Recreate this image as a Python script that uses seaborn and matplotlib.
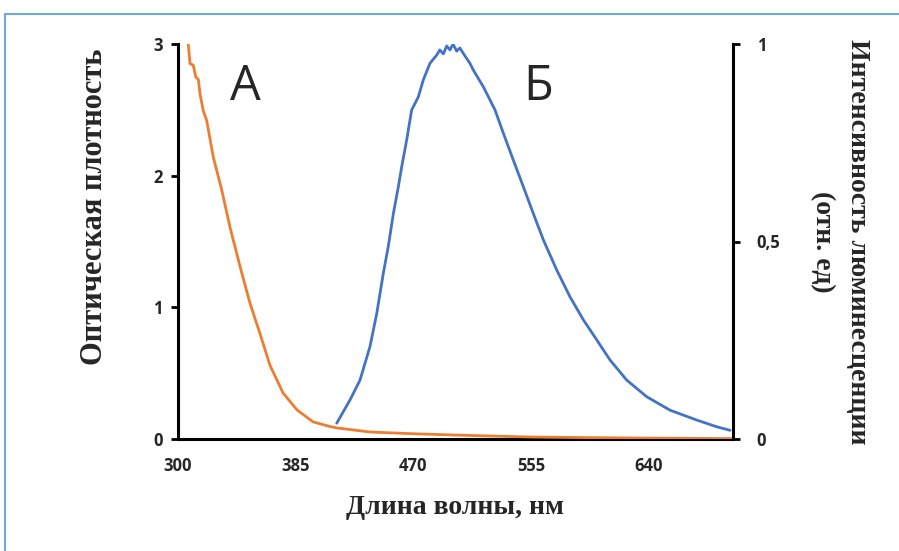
import pandas as pd
import matplotlib
matplotlib.use("Agg")
import matplotlib.pyplot as plt
import seaborn as sns
from matplotlib.patches import Rectangle

# absorption spectrum (left axis, optical density)
abs_nm = [307.4, 308.7, 311.0, 312.8, 314.7, 315.9, 318.3, 320.7, 321.9, 325.5,
          331.6, 337.5, 344.8, 352.0, 359.2, 366.4, 375.8, 386.0, 397.5, 409.7,
          414.8, 438.6, 469.7, 500.0, 554.0, 600.0, 640.0, 700.0]
abs_od = [3.00, 2.85, 2.84, 2.75, 2.73, 2.62, 2.49, 2.42, 2.35, 2.14,
          1.89, 1.61, 1.31, 1.03, 0.80, 0.56, 0.35, 0.22, 0.13, 0.095,
          0.084, 0.053, 0.040, 0.030, 0.015, 0.010, 0.007, 0.003]

# luminescence spectrum (right axis, rel. units)
lum_nm = [414.6, 424.2, 431.4, 438.6, 443.5, 448.2, 451.8, 455.5, 459.1, 461.5,
          465.1, 468.7, 473.5, 477.1, 481.9, 486.8, 489.0, 491.6, 494.0, 496.4,
          498.5, 501.2, 503.5, 506.0, 510.8, 513.2, 520.4, 528.9, 534.9, 542.1,
          549.3, 556.5, 563.8, 573.4, 583.0, 592.6, 602.3, 611.9, 624.0, 638.4,
          655.2, 674.5, 688.9, 698.6]
lum_int = [0.040, 0.099, 0.149, 0.234, 0.318, 0.419, 0.487, 0.571, 0.639, 0.689,
           0.757, 0.833, 0.866, 0.909, 0.951, 0.972, 0.985, 0.975, 0.995, 0.985,
           1.000, 0.982, 0.990, 0.976, 0.951, 0.934, 0.892, 0.833, 0.774, 0.706,
           0.639, 0.571, 0.504, 0.428, 0.360, 0.302, 0.251, 0.200, 0.149, 0.107,
           0.073, 0.048, 0.031, 0.022]

x_ticks = [300, 385, 470, 555, 640]
left_ticks = [0, 1, 2, 3]
right_ticks = [0, 0.5, 1]
right_labels = ["0", "0,5", "1"]

df_abs = pd.DataFrame({"nm": abs_nm, "od": abs_od})
df_lum = pd.DataFrame({"nm": lum_nm, "lum": lum_int})

sns.set_style("white")
plt.rcParams["font.family"] = ["Open Sans", "DejaVu Sans"]

fig = plt.figure(figsize=(8.99, 5.51), dpi=100)
ax = fig.add_axes([178 / 899, 1 - 439 / 551, (733 - 178) / 899, (439 - 44) / 551])
ax2 = ax.twinx()

sns.lineplot(data=df_abs, x="nm", y="od", ax=ax, color="#ED7D31", linewidth=2.0, zorder=3)
sns.lineplot(data=df_lum, x="nm", y="lum", ax=ax2, color="#4472C4", linewidth=2.0)

ax.set_xlim(300, 700.7)
ax.set_ylim(0, 3)
ax2.set_ylim(0, 1)
ax.set_xticks(x_ticks)
ax.set_yticks(left_ticks)
ax2.set_yticks(right_ticks)
ax2.set_yticklabels(right_labels)

for a in (ax, ax2):
    a.spines["top"].set_visible(False)
    for side in ("left", "bottom", "right"):
        a.spines[side].set_linewidth(2.2)
        a.spines[side].set_color("black")
ax.spines["right"].set_visible(False)
ax2.spines["left"].set_visible(False)
ax2.spines["bottom"].set_visible(False)

tick_font = dict(family="Open Sans", weight="bold", size=12)
ax.tick_params(axis="both", direction="out", length=5, width=2, color="black", pad=6)
ax.tick_params(axis="x", pad=8)
ax2.tick_params(axis="y", direction="out", length=5, width=2, color="black", pad=12)
for lab in ax.get_xticklabels() + ax.get_yticklabels() + ax2.get_yticklabels():
    lab.set_fontproperties(tick_font)

label_font = dict(family="Liberation Serif", weight="bold", size=20)
ax.set_xlabel("Длина волны, нм", fontdict=label_font)
ax.xaxis.label.set_verticalalignment("center")
ax.xaxis.set_label_coords(0.5, -(507 - 439) / 395)

ax.set_ylabel("Оптическая плотность", fontdict=dict(label_font, size=22))
ax.yaxis.label.set_verticalalignment("center")
ax.yaxis.set_label_coords((95 - 178) / 555, (439 - 207) / 395)

ax2.set_ylabel("Интенсивность люминесценции\n(отн. ед)", fontdict=label_font,
               rotation=270, linespacing=1.5)
ax2.yaxis.label.set_verticalalignment("center")
ax2.yaxis.set_label_coords((840 - 178) / 555, 0.5)

ax.text(348.7, 2.67, "А", fontsize=35, ha="center", va="center", family="Open Sans")
ax.text(559.9, 2.67, "Б", fontsize=35, ha="center", va="center", family="Open Sans")

fig.patches.append(Rectangle((5 / 899, -0.05), 1.1, 1 - 14 / 551 + 0.05,
                             transform=fig.transFigure, fill=False,
                             edgecolor="#6FA8DC", linewidth=1.5))

fig.savefig("out.png", dpi=100)
